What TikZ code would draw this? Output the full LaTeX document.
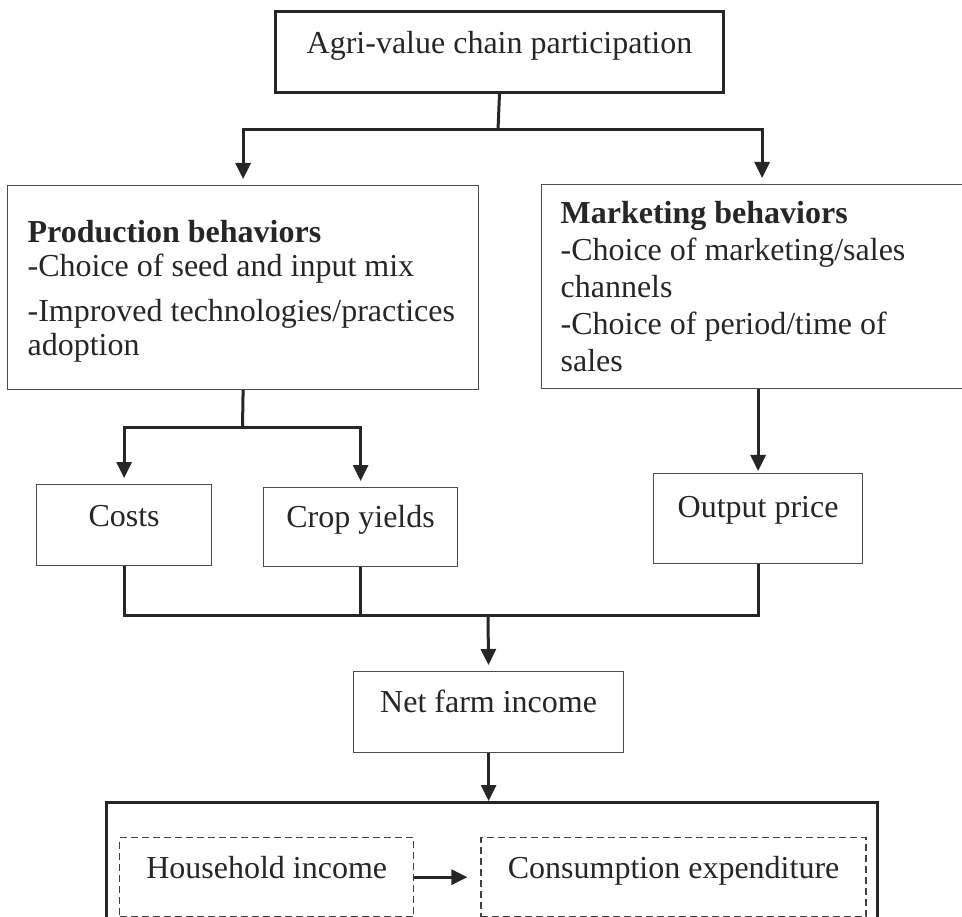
\documentclass[tikz,border=0pt]{standalone}
\usepackage{fontspec}
\setmainfont{Liberation Serif}
\usetikzlibrary{arrows.meta,positioning}

\begin{document}
\begin{tikzpicture}[x=1pt, y=-1pt, node distance=66pt,
		every node/.style={font=\fontsize{32}{37}\selectfont, text=black!85, inner sep=0pt},
		box/.style={draw=black!70, line width=1.2pt},
		thickbox/.style={draw=black!85, line width=3pt},
		dashbox/.style={draw=black!75, line width=1.4pt, dash pattern=on 7pt off 4pt},
		link/.style={draw=black!85, line width=3pt},
		arrow/.style={link, -{Triangle[length=16pt,width=15pt]}, shorten >=6pt}]
	\useasboundingbox (0,0) rectangle (962,917);
	
	\node[thickbox, anchor=north west, minimum width=448pt, text height=42pt, text depth=39pt] (chain) at (274,10) {Agri-value chain participation};
	
	\node[box, anchor=north west, align=flush left, text width=431pt, inner xsep=20pt, text height=57pt, text depth=147pt,
		font=\fontsize{32}{34}\selectfont] (prod) at (7,185)
		{\textbf{Production behaviors}\\ -Choice of seed and input mix\\[11pt] -Improved technologies/practices\\ adoption};
	\node[box, anchor=north west, align=flush left, text width=403pt, inner xsep=19pt, text height=39pt, text depth=165pt] (mkt) at (541,184)
		{\textbf{Marketing behaviors}\\ -Choice of marketing/sales\\ channels\\ -Choice of period/time of\\ sales};
	
	\coordinate (split) at (498,130);
	\draw[link] (chain.south) -- (split);
	\draw[arrow] (split) -| (prod.north);
	\draw[arrow] (split) -| (mkt.north);
	
	\node[box, anchor=north west, minimum width=175pt, text height=42pt, text depth=39pt] (costs) at (36,484) {Costs};
	\node[box, anchor=north west, minimum width=194pt, text height=40pt, text depth=39pt] (crop) at (263,487) {Crop yields};
	\node[box, anchor=north west, minimum width=209pt, text height=44pt, text depth=46pt] (price) at (653,473) {Output price};
	
	\coordinate (psplit) at (242.5,428);
	\draw[link] (prod.south) -- (psplit);
	\draw[arrow] (psplit) -| (costs.north);
	\draw[arrow] (psplit) -| (crop.north);
	\draw[arrow, shorten >=2pt] (mkt.south -| price.north) -- (price.north);
	
	\node[box, anchor=north west, minimum width=270pt, text height=41pt, text depth=40pt] (net) at (353,671) {Net farm income};
	
	\coordinate (join) at (488,615);
	\draw[link] (costs.south) |- (join) -| (price.south);
	\draw[link] (crop.south) -- (crop.south |- join);
	\draw[arrow] (join) -- (net.north);
	
	\node[thickbox, anchor=north west, minimum width=771pt, minimum height=200pt] (welfare) at (105,801) {};
	\draw[arrow, shorten >=0pt] (net.south) -- (net.south |- welfare.north);
	
	\node[dashbox, anchor=north west, minimum width=294pt, text height=41pt, text depth=38pt] (hhinc) at (119,837) {Household income};
	\node[dashbox, right=of hhinc, minimum width=385pt, text height=41pt, text depth=38pt] (cons) {Consumption expenditure};
	\draw[arrow, shorten >=13pt] (hhinc.east) -- (cons.west);
\end{tikzpicture}
\end{document}
